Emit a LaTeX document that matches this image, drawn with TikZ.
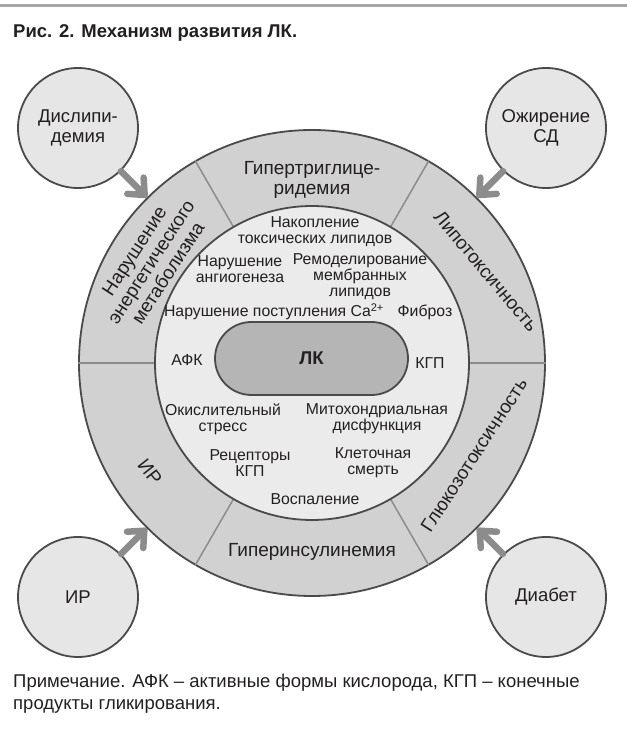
\documentclass[tikz,border=0pt]{standalone}
\usepackage{fontspec}
\setmainfont{Liberation Sans}
\usetikzlibrary{arrows.meta}
\definecolor{ringc}{HTML}{D1D1D1}
\definecolor{innerc}{HTML}{EBEBEB}
\definecolor{cornerc}{HTML}{E6E6E6}
\definecolor{lkc}{HTML}{B5B5B5}
\definecolor{bord}{HTML}{4A4A4A}
\definecolor{divc}{HTML}{8C8C8C}
\definecolor{arrc}{HTML}{8C8C8C}
\definecolor{rulec}{HTML}{A6A6A6}
\definecolor{txtc}{HTML}{231F20}
\begin{document}
\begin{tikzpicture}[x=1pt,y=1pt,
  intxt/.style={align=center, font=\fontsize{15.8}{16}\selectfont, inner sep=0pt, text=txtc},
  ringtxt/.style={align=center, font=\fontsize{19}{20}\selectfont, inner sep=0pt, text=txtc},
  corner/.style={circle, draw=bord, line width=1.8pt, fill=cornerc, minimum size=120pt, inner sep=0pt, align=center, font=\fontsize{18.5}{20}\selectfont, text=txtc},
  arr/.style={draw=arrc, line width=6.5pt, line cap=round, -{Straight Barb[length=13pt,width=23pt,round]}},
  divider/.style={draw=divc, line width=1.5pt},
]
\useasboundingbox (0,0) rectangle (627,729);
% top rule
\draw[rulec, line width=3pt] (0,723.7) -- (627,723.7);
% title
\node[anchor=base west, inner sep=0pt, font=\fontsize{18.5}{20}\selectfont\bfseries, text=txtc] (title) at (13,691.3) {Рис. 2. Механизм развития ЛК.};
% outer ring
\node[circle, draw=bord, line width=1.8pt, fill=ringc, minimum size=466pt, inner sep=0pt] (ring) at (312,366) {};
\node[circle, minimum size=314pt, inner sep=0pt] (innerb) at (312,366) {};
\foreach \a in {0,60,120,180,240,300}{
  \draw[divider] (innerb.\a) -- (ring.\a);
}
\node[circle, draw=bord, line width=1.8pt, fill=innerc, minimum size=314pt, inner sep=0pt] (inner) at (312,366) {};
% ring labels
\node[ringtxt] (gtg) at (312,549) {Гипертриглице-\\ридемия};
\node[ringtxt] (gins) at (312,177) {Гиперинсулинемия};
\node[ringtxt, rotate=57] (energy) at (151,467) {Нарушение\\энергетического\\метаболизма};
\node[ringtxt, rotate=-50] (lipo) at (486,458) {Липотоксичность};
\node[ringtxt, rotate=57] (gluco) at (474,274) {Глюкозотоксичность};
\node[ringtxt, rotate=-52] (irring) at (150,257) {ИР};
% centre
\node[rectangle, rounded corners=36.5pt, draw=bord, line width=1.8pt, fill=lkc, minimum width=193pt, minimum height=73pt, font=\fontsize{18.5}{20}\selectfont\bfseries, text=txtc] (lk) at (311.5,370.5) {ЛК};
% inner labels
\node[intxt] (nak) at (315,497) {Накопление\\токсических липидов};
\node[intxt] (angio) at (240,460) {Нарушение\\ангиогенеза};
\node[intxt] (remod) at (360,452) {Ремоделирование\\мембранных\\липидов};
\node[intxt] (ca) at (274,417) {Нарушение поступления Ca\textsuperscript{2+}};
\node[intxt] (fib) at (425,417) {Фиброз};
\node[intxt] (afk) at (187,369) {АФК};
\node[intxt] (kgp) at (430,366) {КГП};
\node[intxt] (oxid) at (223,310) {Окислительный\\стресс};
\node[intxt] (mito) at (377,310) {Митохондриальная\\дисфункция};
\node[intxt] (recep) at (250,266) {Рецепторы\\КГП};
\node[intxt] (death) at (373,266) {Клеточная\\смерть};
\node[intxt] (infl) at (315,230) {Воспаление};
% corner circles
\node[corner] (dis) at (78,601) {Дислипи-\\демия};
\node[corner] (obes) at (546,601) {Ожирение\\СД};
\node[corner] (ir) at (78,132) {ИР};
\node[corner] (diab) at (546,132) {Диабет};
\draw[arr] (dis) -- (ring);
\draw[arr] (obes) -- (ring);
\draw[arr] (ir) -- (ring);
\draw[arr] (diab) -- (ring);
% footnote
\node[anchor=base west, inner sep=0pt, align=left, font=\fontsize{18.5}{21.5}\selectfont, text=txtc] (note) at (13,19.7) {Примечание. АФК – активные формы кислорода, КГП – конечные\\продукты гликирования.};
\end{tikzpicture}
\end{document}
